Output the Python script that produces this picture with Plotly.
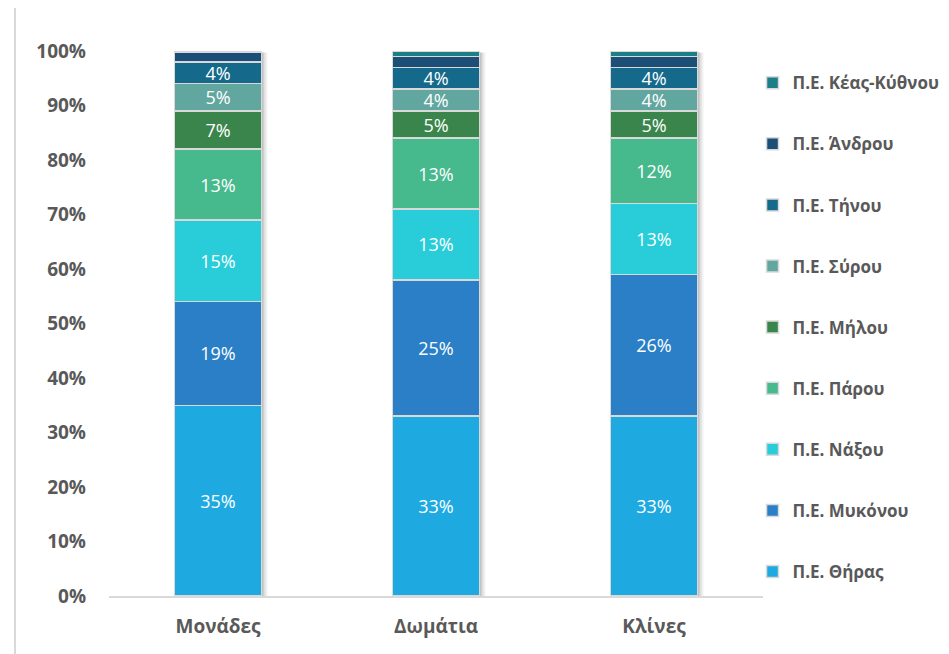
import plotly.graph_objects as go

categories = ["Μονάδες", "Δωμάτια", "Κλίνες"]

series_names = ["Π.Ε. Θήρας", "Π.Ε. Μυκόνου", "Π.Ε. Νάξου", "Π.Ε. Πάρου", "Π.Ε. Μήλου",
                "Π.Ε. Σύρου", "Π.Ε. Τήνου", "Π.Ε. Άνδρου", "Π.Ε. Κέας-Κύθνου"]

thiras = [35, 33, 33]
mykonou = [19, 25, 26]
naxou = [15, 13, 13]
parou = [13, 13, 12]
milou = [7, 5, 5]
syrou = [5, 4, 4]
tinou = [4, 4, 4]
androu = [1.7, 2, 2]
keas = [0.3, 1, 1]

series_values = [thiras, mykonou, naxou, parou, milou, syrou, tinou, androu, keas]
show_labels = [True, True, True, True, True, True, True, False, False]

colors = ["#1EAAE0", "#2A7FC6", "#29CDD9", "#46B98D", "#3A854C",
          "#62A6A0", "#156A8C", "#1B4F78", "#1C7E86"]

y_ticks = [0, 10, 20, 30, 40, 50, 60, 70, 80, 90, 100]
y_tick_labels = [f"{t}%" for t in y_ticks]

FONT = "Open Sans"
GRAY = "#595959"
BARGAP = 0.6

fig = go.Figure()
n = len(series_names)
for i, (name, vals, col, show) in enumerate(zip(series_names, series_values, colors, show_labels)):
    fig.add_trace(go.Bar(
        x=categories, y=vals, name=name, legendgroup=name, legendrank=n - i,
        marker=dict(color=col, line=dict(color="#D9D9D9", width=1.5)),
        text=[f"{v:.0f}%" for v in vals] if show else None,
        textposition="inside" if show else "none",
        insidetextanchor="middle",
        textfont=dict(color="white", size=18, family=FONT),
        constraintext="none",
        hoverinfo="name+y",
    ))

# soft drop shadow behind each bar (decoration)
half = (1 - BARGAP) / 2
px = 1 / 218.0
for ci in range(len(categories)):
    for k, op in [(6, 0.05), (4, 0.08), (2, 0.12)]:
        fig.add_shape(type="rect", xref="x", yref="y", layer="below",
                      x0=ci - half + k * px, x1=ci + half + k * px,
                      y0=-k * 0.18, y1=100 - 1.5 * 0.18,
                      fillcolor=f"rgba(0,0,0,{op})", line=dict(width=0))

fig.update_layout(
    width=949, height=654,
    barmode="stack", bargap=BARGAP,
    plot_bgcolor="white", paper_bgcolor="white",
    margin=dict(l=101, r=194, t=43, b=66, autoexpand=False),
    font=dict(family=FONT, color=GRAY),
    legend=dict(
        traceorder="grouped", tracegroupgap=36,
        x=0.984, xanchor="left", y=0.974, yanchor="top",
        font=dict(size=17, color=GRAY, family=FONT, weight="bold"),
        itemwidth=30,
    ),
    showlegend=True,
)
fig.update_yaxes(
    range=[0, 100], tickvals=y_ticks, ticktext=y_tick_labels, showgrid=False,
    zeroline=False, showline=False, automargin=False,
    tickfont=dict(size=19, color=GRAY, family=FONT, weight="bold"),
    ticklabelstandoff=22,
)
fig.update_xaxes(
    showline=True, linecolor="#D9D9D9", linewidth=1.5, automargin=False,
    tickfont=dict(size=19, color=GRAY, family=FONT, weight="bold"),
    ticklabelstandoff=12, ticks="",
)
fig.add_shape(type="line", xref="paper", yref="paper",
              x0=(7 - 101) / 654, x1=(7 - 101) / 654, y0=-0.2, y1=1.2,
              line=dict(color="#D9D9D9", width=2))

fig.write_html("out.html")
